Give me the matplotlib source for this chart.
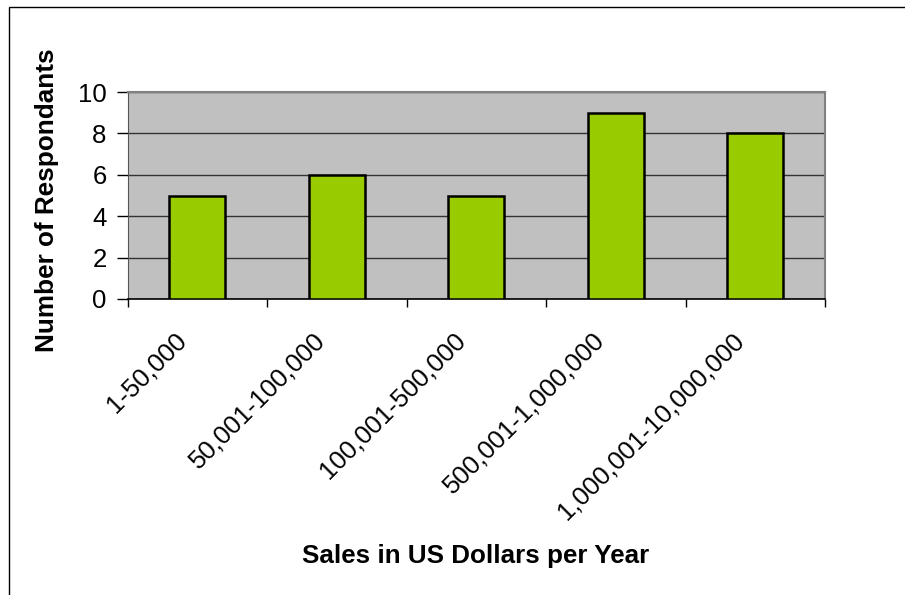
import matplotlib
matplotlib.use("Agg")
import matplotlib.pyplot as plt
from matplotlib.patches import Rectangle
from matplotlib.transforms import ScaledTranslation

categories = ["1-50,000", "50,001-100,000", "100,001-500,000",
              "500,001-1,000,000", "1,000,001-10,000,000"]
respondents = [5, 6, 5, 9, 8]
y_ticks = [0, 2, 4, 6, 8, 10]

plt.rcParams["font.family"] = ["Liberation Sans", "DejaVu Sans"]

W, H = 905, 595
fig = plt.figure(figsize=(W / 100, H / 100), dpi=100)

# chart-area frame (runs off the right and bottom edges)
fig.patches.append(Rectangle((9 / W, -0.1), 1.2, 1 - 7 / H + 0.1,
                             transform=fig.transFigure, fill=False,
                             edgecolor="black", linewidth=1.0))

ax = fig.add_axes([127.5 / W, (H - 299) / H, (825 - 127.5) / W, (299 - 92) / H])
ax.set_facecolor("#C0C0C0")

x = range(len(categories))
ax.bar(x, respondents, width=0.4, color="#99CC00", edgecolor="black",
       linewidth=1.8, zorder=3)

ax.set_xlim(-0.5, len(categories) - 0.5)
ax.set_ylim(0, 10)
ax.set_yticks(y_ticks)
ax.yaxis.grid(True, color="#333333", linewidth=1.0, zorder=1)
ax.set_axisbelow(True)

for side in ("top", "right"):
    ax.spines[side].set_color("#808080")
    ax.spines[side].set_linewidth(1.5)
ax.spines["left"].set_color("#555555")
ax.spines["bottom"].set_color("black")
ax.spines["bottom"].set_linewidth(1.2)

ax.tick_params(axis="y", direction="out", length=8, width=1, labelsize=18.5, pad=7)

# category labels at bar centres, tick marks between categories
ax.set_xticks(list(x))
ax.set_xticklabels(categories, rotation=45, ha="right", va="center",
                   rotation_mode="anchor", fontsize=18.5)
ax.set_xticks([i - 0.5 for i in range(len(categories) + 1)], minor=True)
ax.tick_params(axis="x", which="major", length=0, pad=27)
ax.tick_params(axis="x", which="minor", direction="out", length=6, width=1)
for lbl in ax.get_xticklabels():
    lbl.set_transform(lbl.get_transform() + ScaledTranslation(-15 / 100, 0, fig.dpi_scale_trans))

fig.text(476 / W, 1 - 563 / H, "Sales in US Dollars per Year", ha="center",
         va="baseline", fontsize=18.7, fontweight="bold")
fig.text(47 / W, 1 - 200 / H, "Number of Respondants", ha="center",
         va="center", rotation=90, fontsize=18.8, fontweight="bold")

fig.savefig("out.png", dpi=100)
